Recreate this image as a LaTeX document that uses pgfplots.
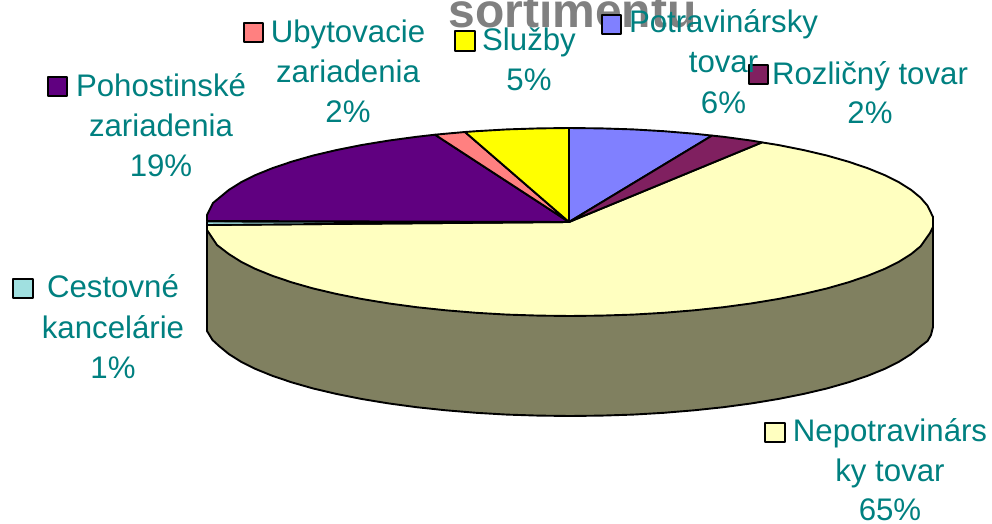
\documentclass[border=0pt]{standalone}
\usepackage{pgfplots}
\pgfplotsset{compat=1.18}
\usepackage{fontspec}
\setmainfont{Liberation Sans}
\definecolor{pblue}{HTML}{8080FF}
\definecolor{pmaroon}{HTML}{802060}
\definecolor{pcream}{HTML}{FFFFC0}
\definecolor{pteal}{HTML}{A0E0E0}
\definecolor{ppurple}{HTML}{600080}
\definecolor{pred}{HTML}{FF8080}
\definecolor{pyellow}{HTML}{FFFF00}
\definecolor{pside}{HTML}{808060}
\definecolor{ptext}{HTML}{008080}
\newcommand{\lab}[3]{\node[anchor=base,text=ptext,inner sep=0pt,font=\fontsize{31.2}{36}\selectfont] at (axis cs:#1,#2) {#3};}
\begin{document}
\begin{tikzpicture}
\path[use as bounding box,clip] (0,0) rectangle (992pt,524pt);
\begin{axis}[at={(0,0)},anchor=south west,scale only axis,width=992pt,height=524pt,
  xmin=0,xmax=992,ymin=0,ymax=524,y dir=reverse,hide axis,clip=false,
  every axis plot/.append style={line width=1.9pt,draw=black,line join=round,forget plot}]
% title, cut by the top edge
\node[anchor=base,text=black!50,inner sep=0pt,font=\fontsize{48}{50}\selectfont\bfseries] at (axis cs:572.5,28) {sortimentu};
% wall
\addplot[fill=pside] coordinates {(933,217)(933,327)(931,335)(927.5,341)(920.6,346.3)(911.1,354.1)(899,361.7)(884.4,369)(867.4,375.9)(848.1,382.4)(826.7,388.5)(803.3,394)(778.2,399)(751.5,403.4)(723.4,407.2)(694.1,410.3)(663.9,412.8)(633,414.6)(601.7,415.6)(570,416)(538.3,415.6)(507,414.6)(476.1,412.8)(445.9,410.3)(416.6,407.2)(388.5,403.4)(361.8,399)(336.7,394)(313.3,388.5)(291.9,382.4)(272.6,375.9)(255.6,369)(241,361.7)(228.9,354.1)(219.4,346.3)(212.5,340)(207,331)(207,225)} -- cycle;
% cream
\addplot[fill=pcream] coordinates {(569,222)(762,142.4)(778.2,145)(803.3,150)(826.7,155.5)(848.1,161.6)(867.4,168.1)(884.4,175)(899,182.3)(911.1,189.9)(920.6,197.7)(927.5,205.7)(933,217)(933,227)(930,233)(920.6,246.3)(911.1,254.1)(899,261.7)(884.4,269)(867.4,275.9)(848.1,282.4)(826.7,288.5)(803.3,294)(778.2,299)(751.5,303.4)(723.4,307.2)(694.1,310.3)(663.9,312.8)(633,314.6)(601.7,315.6)(570,316)(538.3,315.6)(507,314.6)(476.1,312.8)(445.9,310.3)(416.6,307.2)(388.5,303.4)(361.8,299)(336.7,294)(313.3,288.5)(291.9,282.4)(272.6,275.9)(255.6,269)(241,261.7)(228.9,254.1)(217,245)(212.5,238.3)(207,230)(207,225)} -- cycle;
% teal
\addplot[fill=pteal] coordinates {(569,222)(207,221.5)(207,225)} -- cycle;
% purple
\addplot[fill=ppurple] coordinates {(569,222)(207,221)(207,215)(213,203)(219.4,197.7)(228.9,189.9)(241,182.3)(255.6,175)(272.6,168.1)(291.9,161.6)(313.3,155.5)(336.7,150)(361.8,145)(388.5,140.6)(416.6,136.8)(435,134.7)} -- cycle;
% red
\addplot[fill=pred] coordinates {(569,222)(435,134.7)(445.9,133.7)(465,132)} -- cycle;
% yellow
\addplot[fill=pyellow] coordinates {(569,222)(465,132)(476.1,131.2)(507,129.4)(538.3,128.4)(569,128)} -- cycle;
% blue
\addplot[fill=pblue] coordinates {(569,222)(569,128)(601.7,128.4)(633,129.4)(663.9,131.2)(694.1,133.7)(712,135.6)} -- cycle;
% maroon
\addplot[fill=pmaroon] coordinates {(569,222)(712,135.6)(723.4,136.8)(751.5,140.6)(762,142.4)} -- cycle;
% keys
\addplot[fill=pred,line width=2.3pt] coordinates {(244,23)(263,23)(263,42)(244,42)} -- cycle;
\addplot[fill=pyellow,line width=2.3pt] coordinates {(455,31)(475,31)(475,51)(455,51)} -- cycle;
\addplot[fill=pblue,line width=2.3pt] coordinates {(602,15)(621,15)(621,34)(602,34)} -- cycle;
\addplot[fill=ppurple,line width=2.3pt] coordinates {(48,77)(67,77)(67,96)(48,96)} -- cycle;
\addplot[fill=pteal,line width=2.3pt] coordinates {(13,279)(33,279)(33,298)(13,298)} -- cycle;
\addplot[fill=pmaroon,line width=2.3pt] coordinates {(749,65)(768,65)(768,84)(749,84)} -- cycle;
\addplot[fill=pcream,line width=2.3pt] coordinates {(765,423)(785,423)(785,442)(765,442)} -- cycle;
% labels
\lab{348}{42.5}{Ubytovacie}\lab{348}{82.5}{zariadenia}\lab{348}{122}{2\%}
\lab{529}{50.5}{Služby}\lab{529}{91}{5\%}
\lab{723.5}{33}{Potravinársky}\lab{723.5}{73}{tovar}\lab{723.5}{113.5}{6\%}
\lab{870}{85}{Rozličný tovar}\lab{870}{124}{2\%}
\lab{161}{96}{Pohostinské}\lab{161}{136.5}{zariadenia}\lab{161}{176}{19\%}
\lab{113}{297.5}{Cestovné}\lab{113}{338}{kancelárie}\lab{113}{378}{1\%}
\lab{890}{441}{Nepotravinárs}\lab{890}{481}{ky tovar}\lab{890}{520.5}{65\%}
\end{axis}
\end{tikzpicture}
\end{document}
